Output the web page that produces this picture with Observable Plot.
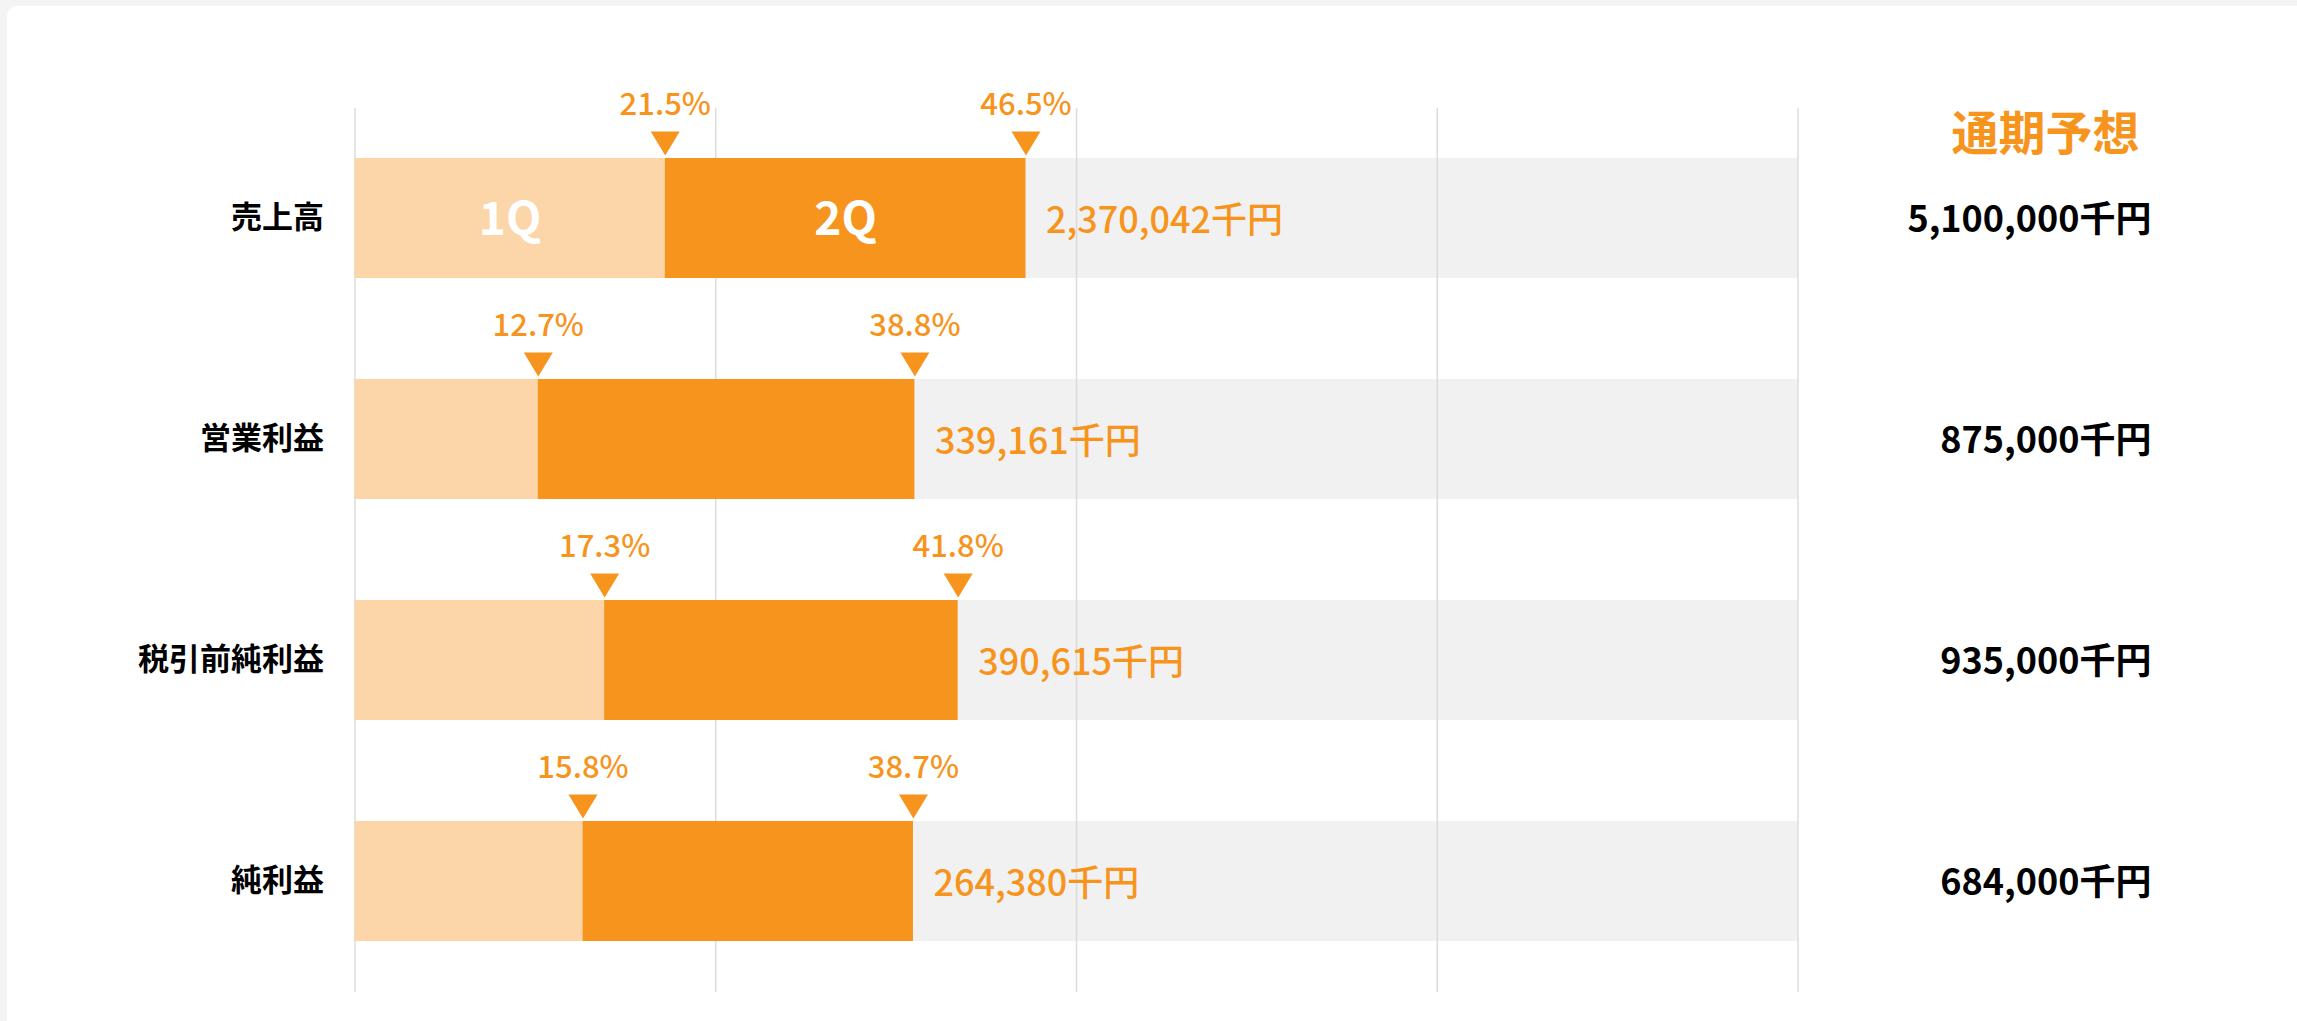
<!DOCTYPE html>
<html><head><meta charset="utf-8">
<script src="https://cdn.jsdelivr.net/npm/d3@7"></script>
<script src="https://cdn.jsdelivr.net/npm/@observablehq/plot@0.6"></script>
<style>
html,body{margin:0;padding:0;background:#f4f4f4;}
body{width:2297px;height:1021px;overflow:hidden;position:relative;font-family:"Noto Sans CJK JP",sans-serif;}
#card{position:absolute;left:7px;top:6px;width:2290px;height:1030px;background:#fff;border-radius:10px 0 0 0;}
#card svg{display:block;}
</style></head><body><div id="card"></div>
<script>
const categories = ["売上高", "営業利益", "税引前純利益", "純利益"];
const q1Pct = [21.5, 12.7, 17.3, 15.8];
const h1Pct = [46.5, 38.8, 41.8, 38.7];
const h1Amount = [2370042, 339161, 390615, 264380];
const forecast = [5100000, 875000, 935000, 684000];
const quarterLabels = ["1Q", "2Q"];
const gridTicks = [0, 25, 50, 75, 100];
const headerText = "通期予想";
const unit = "千円";

const rows = categories.map((c, i) => ({c, q1: q1Pct[i], h1: h1Pct[i], amt: h1Amount[i], fc: forecast[i]}));
const fmt = d3.format(",");
const orange = "#f7941d", light = "#fcd5a8", bg = "#f1f1f1", grid = "#dcdcdc";

const downTri = {draw(ctx) { const w = 29, h = 24; ctx.moveTo(-w / 2, -h); ctx.lineTo(w / 2, -h); ctx.lineTo(0, 0); ctx.closePath(); }};

const pctMarks = [
  ...rows.map(d => ({c: d.c, x: d.q1})),
  ...rows.map(d => ({c: d.c, x: d.h1}))
];
const qLabels = [
  {c: rows[0].c, x: rows[0].q1 / 2, t: quarterLabels[0]},
  {c: rows[0].c, x: (rows[0].q1 + rows[0].h1) / 2, t: quarterLabels[1]}
];

const chart = Plot.plot({
  width: 2290,
  height: 1015,
  marginTop: 102,
  marginBottom: 29,
  marginLeft: 347.5,
  marginRight: 499.5,
  style: {fontFamily: '"Noto Sans CJK JP", sans-serif', background: "transparent", overflow: "visible", color: "#000"},
  x: {domain: [0, 100], axis: null},
  y: {domain: categories, paddingInner: 0.456, paddingOuter: 0.228, axis: null},
  marks: [
    Plot.barX(rows, {y: "c", x1: 0, x2: 100, fill: bg}),
    Plot.ruleX(gridTicks, {stroke: grid, strokeWidth: 1.5}),
    Plot.barX(rows, {y: "c", x1: 0, x2: "q1", fill: light}),
    Plot.barX(rows, {y: "c", x1: "q1", x2: "h1", fill: orange}),
    Plot.axisY({tickSize: 0, tickPadding: 31, fontSize: 31, fontWeight: 700, fill: "#000", label: null}),
    Plot.text(qLabels, {x: "x", y: "c", text: "t", fill: "#fff", fontSize: 46, fontWeight: 700, dy: 2}),
    Plot.dot(pctMarks, {x: "x", y: "c", symbol: downTri, fill: orange, stroke: null, dy: -63}),
    Plot.text(pctMarks, {x: "x", y: "c", text: d => d.x.toFixed(1) + "%", fill: orange, fontSize: 31, fontWeight: 500, dy: -113}),
    Plot.text(rows, {x: "h1", y: "c", text: d => fmt(d.amt) + unit, fill: orange, fontSize: 36, fontWeight: 500, textAnchor: "start", dx: 20, dy: 3}),
    Plot.text(rows, {y: "c", frameAnchor: "right", dx: 353.5, textAnchor: "end", text: d => fmt(d.fc) + unit, fontSize: 36, fontWeight: 700, fill: "#000", dy: 2}),
    Plot.text([headerText], {frameAnchor: "top-right", dx: 247.5, dy: 8, textAnchor: "middle", text: d => d, fontSize: 47, fontWeight: 700, fill: orange})
  ]
});
document.getElementById("card").appendChild(chart);
</script>
</body></html>
